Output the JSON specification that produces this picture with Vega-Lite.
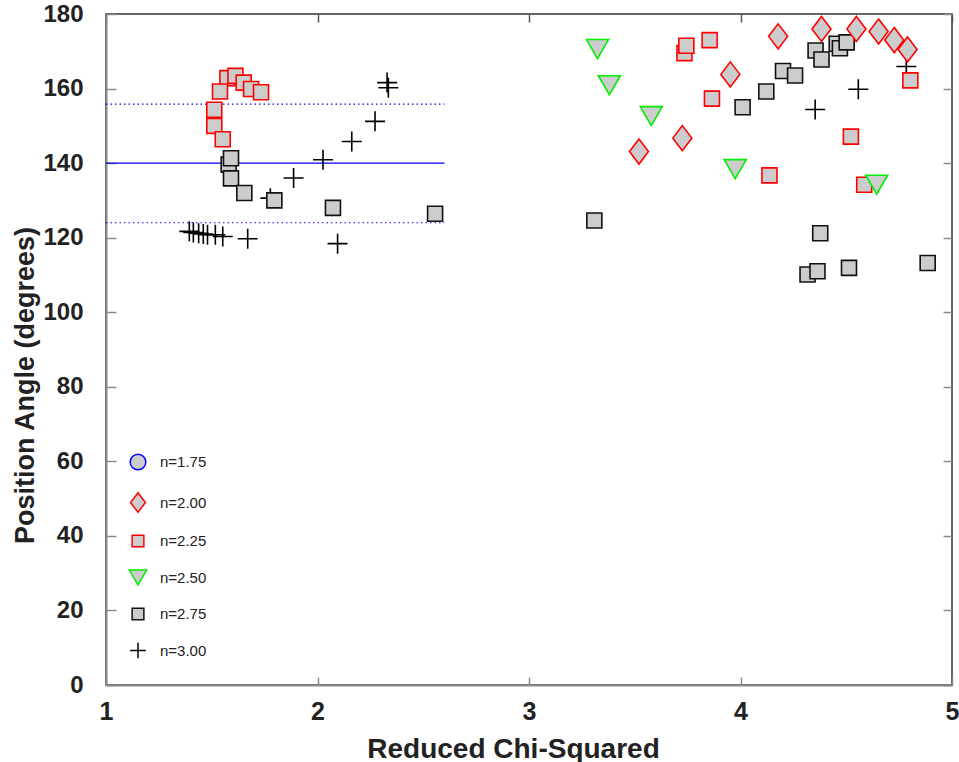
{
  "$schema": "https://vega.github.io/schema/vega-lite/v6.json",
  "width": 846,
  "height": 671,
  "autosize": {"type": "none"},
  "padding": {"left": 106, "top": 14, "right": 7, "bottom": 77},
  "background": "white",
  "config": {
    "view": {"stroke": "#333333", "strokeWidth": 1.5},
    "axis": {
      "grid": false,
      "labelFlush": false,
      "domainColor": "#8a8a8a",
      "domainWidth": 2,
      "tickColor": "#8a8a8a",
      "tickWidth": 1.5,
      "labelFont": "Liberation Sans",
      "labelFontWeight": "bold",
      "labelColor": "#222222",
      "titleFont": "Liberation Sans",
      "titleFontWeight": "bold",
      "titleColor": "#222222"
    },
    "legend": {
      "orient": "none",
      "legendX": 23,
      "legendY": 439,
      "padding": 0,
      "title": null,
      "symbolSize": 245,
      "symbolStrokeWidth": 1.5,
      "rowPadding": 16.5,
      "labelOffset": 13,
      "labelFont": "Liberation Sans",
      "labelFontSize": 15,
      "labelColor": "#222222"
    }
  },
  "datasets": {
    "refs": [
      {"pa": 140, "from": 1, "to": 2.6, "kind": "mean"},
      {"pa": 155.8, "from": 1, "to": 2.6, "kind": "upper"},
      {"pa": 124.0, "from": 1, "to": 2.6, "kind": "lower"}
    ],
    "points": [
      {"n": "n=3.00", "chi2": 1.394, "pa": 121.7},
      {"n": "n=3.00", "chi2": 1.413, "pa": 121.4},
      {"n": "n=3.00", "chi2": 1.438, "pa": 121.2},
      {"n": "n=3.00", "chi2": 1.460, "pa": 121.0},
      {"n": "n=3.00", "chi2": 1.480, "pa": 120.8},
      {"n": "n=3.00", "chi2": 1.517, "pa": 120.8},
      {"n": "n=3.00", "chi2": 1.552, "pa": 120.3},
      {"n": "n=3.00", "chi2": 1.670, "pa": 119.7},
      {"n": "n=3.00", "chi2": 1.777, "pa": 130.6},
      {"n": "n=3.00", "chi2": 1.887, "pa": 136.0},
      {"n": "n=3.00", "chi2": 2.026, "pa": 140.9},
      {"n": "n=3.00", "chi2": 2.095, "pa": 118.4},
      {"n": "n=3.00", "chi2": 2.162, "pa": 145.8},
      {"n": "n=3.00", "chi2": 2.272, "pa": 151.2},
      {"n": "n=3.00", "chi2": 2.329, "pa": 161.6},
      {"n": "n=3.00", "chi2": 2.335, "pa": 160.2},
      {"n": "n=3.00", "chi2": 4.353, "pa": 154.4},
      {"n": "n=3.00", "chi2": 4.557, "pa": 159.8},
      {"n": "n=3.00", "chi2": 4.784, "pa": 165.9},
      {"n": "n=2.75", "chi2": 1.580, "pa": 139.6},
      {"n": "n=2.75", "chi2": 1.591, "pa": 141.3},
      {"n": "n=2.75", "chi2": 1.591, "pa": 135.9},
      {"n": "n=2.75", "chi2": 1.654, "pa": 132.0},
      {"n": "n=2.75", "chi2": 1.796, "pa": 130.0},
      {"n": "n=2.75", "chi2": 2.073, "pa": 128.0},
      {"n": "n=2.75", "chi2": 2.556, "pa": 126.4},
      {"n": "n=2.75", "chi2": 3.309, "pa": 124.6},
      {"n": "n=2.75", "chi2": 4.010, "pa": 155.0},
      {"n": "n=2.75", "chi2": 4.122, "pa": 159.2},
      {"n": "n=2.75", "chi2": 4.201, "pa": 164.7},
      {"n": "n=2.75", "chi2": 4.258, "pa": 163.5},
      {"n": "n=2.75", "chi2": 4.355, "pa": 170.2},
      {"n": "n=2.75", "chi2": 4.383, "pa": 167.8},
      {"n": "n=2.75", "chi2": 4.455, "pa": 172.0},
      {"n": "n=2.75", "chi2": 4.470, "pa": 170.8},
      {"n": "n=2.75", "chi2": 4.502, "pa": 172.4},
      {"n": "n=2.75", "chi2": 4.377, "pa": 121.2},
      {"n": "n=2.75", "chi2": 4.317, "pa": 110.1},
      {"n": "n=2.75", "chi2": 4.364, "pa": 111.0},
      {"n": "n=2.75", "chi2": 4.513, "pa": 111.9},
      {"n": "n=2.75", "chi2": 4.885, "pa": 113.2},
      {"n": "n=2.25", "chi2": 1.574, "pa": 162.8},
      {"n": "n=2.25", "chi2": 1.612, "pa": 163.4},
      {"n": "n=2.25", "chi2": 1.539, "pa": 159.2},
      {"n": "n=2.25", "chi2": 1.651, "pa": 161.6},
      {"n": "n=2.25", "chi2": 1.686, "pa": 159.9},
      {"n": "n=2.25", "chi2": 1.733, "pa": 159.0},
      {"n": "n=2.25", "chi2": 1.512, "pa": 154.3},
      {"n": "n=2.25", "chi2": 1.512, "pa": 150.0},
      {"n": "n=2.25", "chi2": 1.552, "pa": 146.4},
      {"n": "n=2.25", "chi2": 3.735, "pa": 169.5},
      {"n": "n=2.25", "chi2": 3.744, "pa": 171.5},
      {"n": "n=2.25", "chi2": 3.854, "pa": 173.0},
      {"n": "n=2.25", "chi2": 3.865, "pa": 157.3},
      {"n": "n=2.25", "chi2": 4.137, "pa": 136.7},
      {"n": "n=2.25", "chi2": 4.522, "pa": 147.1},
      {"n": "n=2.25", "chi2": 4.585, "pa": 134.2},
      {"n": "n=2.25", "chi2": 4.803, "pa": 162.2},
      {"n": "n=2.50", "chi2": 3.324, "pa": 170.6},
      {"n": "n=2.50", "chi2": 3.380, "pa": 160.9},
      {"n": "n=2.50", "chi2": 3.578, "pa": 152.6},
      {"n": "n=2.50", "chi2": 3.975, "pa": 138.4},
      {"n": "n=2.50", "chi2": 4.644, "pa": 134.2},
      {"n": "n=2.00", "chi2": 3.520, "pa": 143.1},
      {"n": "n=2.00", "chi2": 3.725, "pa": 146.7},
      {"n": "n=2.00", "chi2": 3.952, "pa": 163.8},
      {"n": "n=2.00", "chi2": 4.178, "pa": 174.0},
      {"n": "n=2.00", "chi2": 4.383, "pa": 176.0},
      {"n": "n=2.00", "chi2": 4.548, "pa": 176.0},
      {"n": "n=2.00", "chi2": 4.653, "pa": 175.3},
      {"n": "n=2.00", "chi2": 4.727, "pa": 173.0},
      {"n": "n=2.00", "chi2": 4.790, "pa": 170.5}
    ]
  },
  "layer": [
    {
      "data": {"name": "refs"},
      "mark": {"type": "rule", "strokeWidth": 1.2, "color": "#0000ff"},
      "encoding": {
        "x": {
          "field": "from", "type": "quantitative",
          "scale": {"domain": [1, 5], "nice": false, "zero": false},
          "axis": {"orient": "top", "title": null, "labels": false, "values": [1, 2, 3, 4, 5], "tickSize": -8, "domain": false, "tickColor": "#555555"}
        },
        "x2": {"field": "to"},
        "y": {
          "field": "pa", "type": "quantitative",
          "scale": {"domain": [0, 180], "nice": false},
          "axis": {"orient": "right", "title": null, "labels": false, "values": [0, 20, 40, 60, 80, 100, 120, 140, 160, 180], "tickSize": -9, "domain": false, "tickColor": "#8a8a8a"}
        },
        "strokeDash": {
          "field": "kind", "type": "nominal",
          "scale": {"domain": ["mean", "upper", "lower"], "range": [[1, 0], [1.5, 3], [1.5, 3]]},
          "legend": null
        }
      }
    },
    {
      "data": {"name": "points"},
      "mark": {"type": "point", "size": 400, "strokeWidth": 1.6, "opacity": 1},
      "encoding": {
        "x": {
          "field": "chi2", "type": "quantitative",
          "scale": {"domain": [1, 5], "nice": false, "zero": false},
          "axis": {"orient": "bottom", "title": "Reduced Chi-Squared", "values": [1, 2, 3, 4, 5], "tickSize": -8, "labelPadding": 22, "labelFontSize": 25, "titleFontSize": 28, "titleX": 407, "titleY": 72, "titleBaseline": "alphabetic", "titleAnchor": "middle", "titleAlign": "center"}
        },
        "y": {
          "field": "pa", "type": "quantitative",
          "scale": {"domain": [0, 180], "nice": false},
          "axis": {"orient": "left", "title": "Position Angle (degrees)", "values": [0, 20, 40, 60, 80, 100, 120, 140, 160, 180], "tickSize": -10, "labelPadding": 33, "labelFontSize": 24, "titleFontSize": 27, "titleAngle": -90, "titleX": -73, "titleY": 371, "titleBaseline": "alphabetic", "titleAlign": "center"}
        },
        "shape": {
          "field": "n", "type": "nominal",
          "scale": {
            "domain": ["n=1.75", "n=2.00", "n=2.25", "n=2.50", "n=2.75", "n=3.00"],
            "range": ["circle", "M0,-1.25L0.95,0L0,1.25L-0.95,0Z", "M-0.75,-0.75H0.75V0.75H-0.75Z", "M-1.1,-0.95L1.1,-0.95L0,0.95Z", "M-0.75,-0.75H0.75V0.75H-0.75Z", "M-1,0H1M0,-1V1"]
          },
          "legend": {"title": null}
        },
        "stroke": {
          "field": "n", "type": "nominal",
          "scale": {
            "domain": ["n=1.75", "n=2.00", "n=2.25", "n=2.50", "n=2.75", "n=3.00"],
            "range": ["#0000ff", "#ff0000", "#ff0000", "#00ee00", "#111111", "#000000"]
          },
          "legend": {"title": null}
        },
        "fill": {
          "field": "n", "type": "nominal",
          "scale": {
            "domain": ["n=1.75", "n=2.00", "n=2.25", "n=2.50", "n=2.75", "n=3.00"],
            "range": ["#cccccc", "#cccccc", "#cccccc", "#cccccc", "#cccccc", "transparent"]
          },
          "legend": {"title": null}
        }
      }
    }
  ],
  "resolve": {"axis": {"x": "independent", "y": "independent"}}
}
